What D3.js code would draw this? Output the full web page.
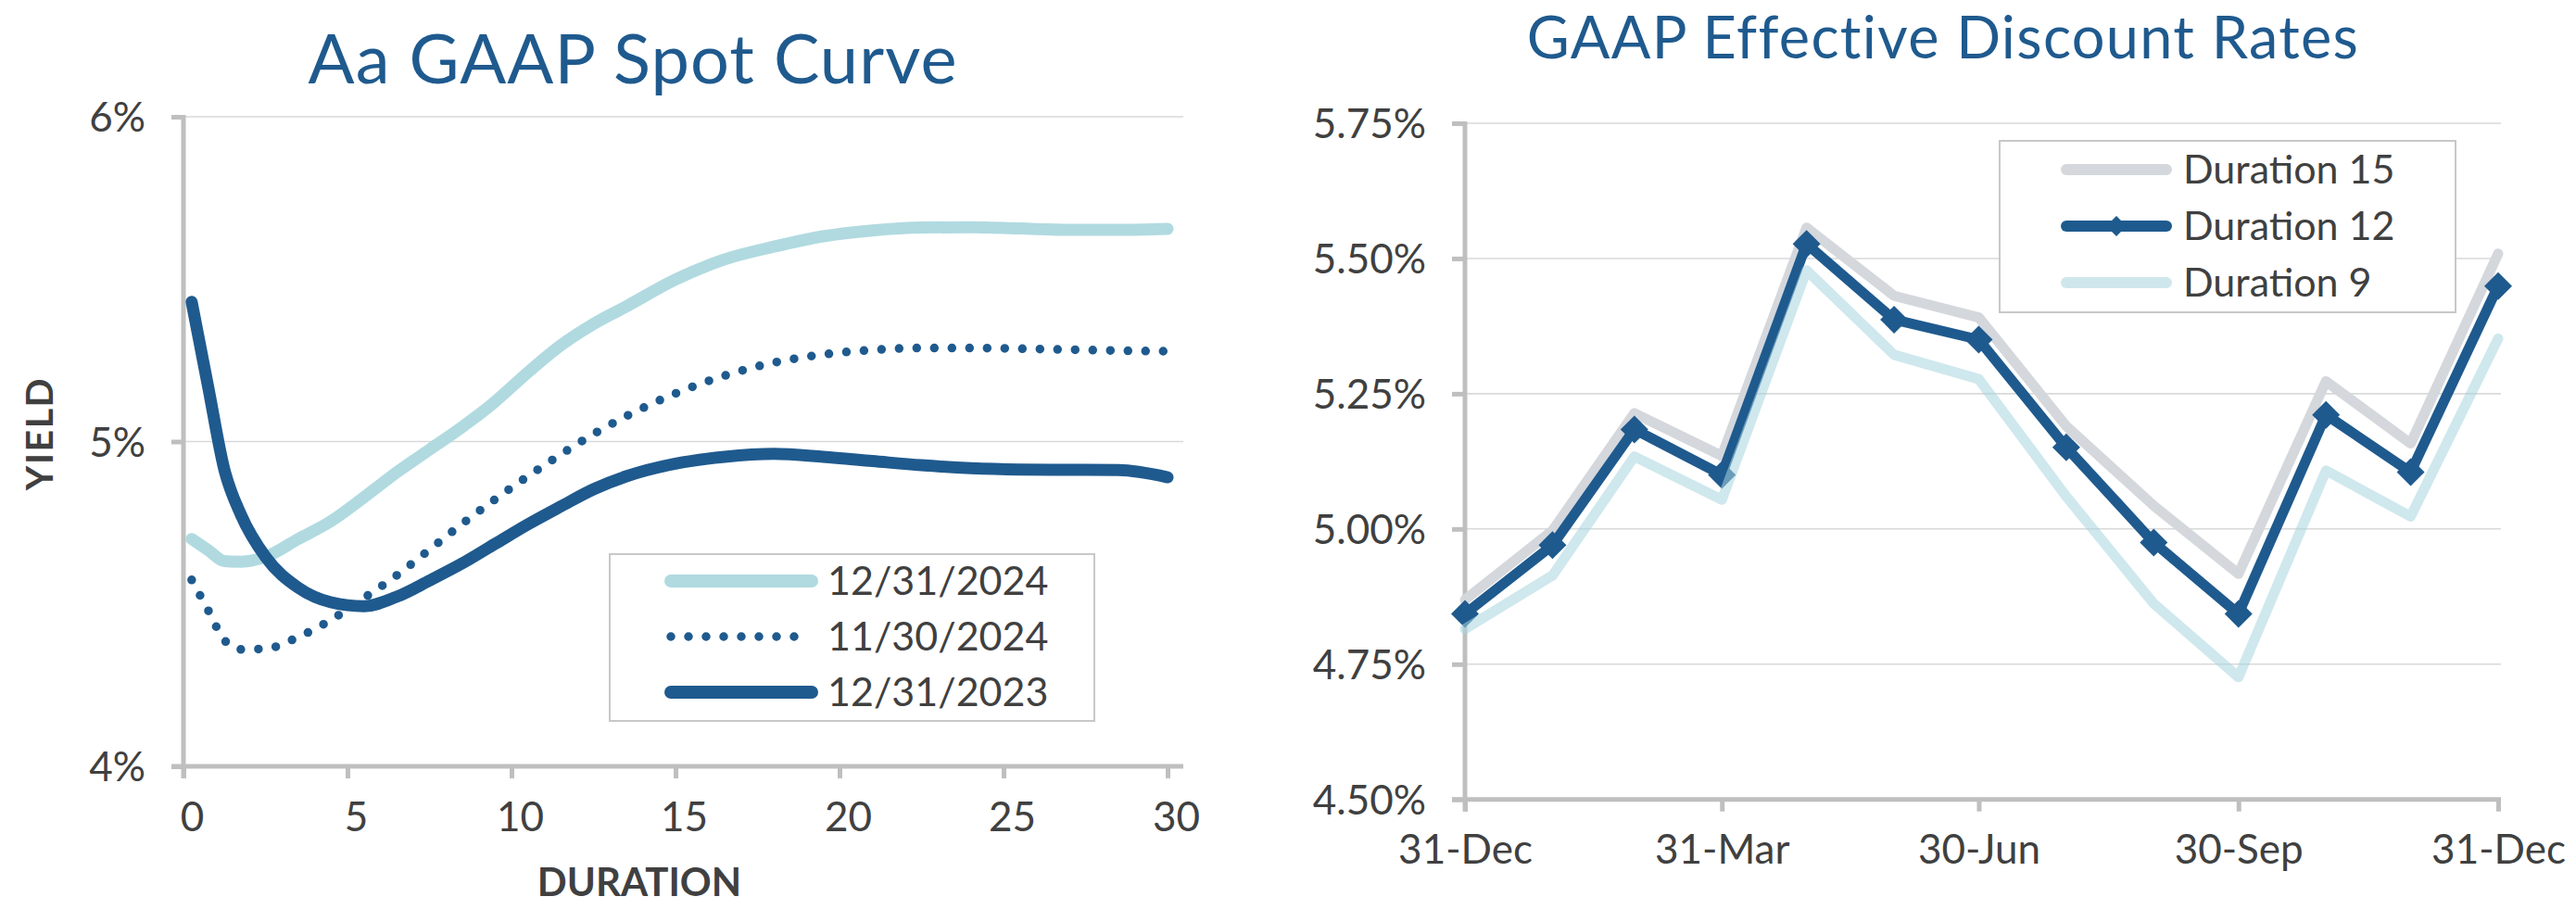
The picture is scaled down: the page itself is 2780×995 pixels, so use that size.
<!DOCTYPE html>
<html><head><meta charset="utf-8">
<script src="https://cdn.jsdelivr.net/npm/d3@7"></script>
<style>html,body{margin:0;padding:0;background:#fff;} svg{display:block;}</style>
</head><body>
<svg id="c" width="2780" height="995"></svg>
<script>
// ---------- Data: Aa GAAP Spot Curve ----------
const spotTitle = "Aa GAAP Spot Curve";
const durations = [0.25, 0.75, 1.25, 1.75, 2.5, 3.5, 4.5, 5.5, 6.5, 7.5, 8.5, 9.5, 10.5, 11.5, 12.5, 13.5, 15, 16.5, 18, 19.5, 21, 22.5, 24, 25.5, 27, 28.5, 30];
const spotDec2024 = [4.70, 4.666, 4.632, 4.63, 4.645, 4.70, 4.755, 4.828, 4.905, 4.975, 5.045, 5.123, 5.213, 5.296, 5.362, 5.416, 5.499, 5.561, 5.60, 5.632, 5.65, 5.659, 5.66, 5.656, 5.652, 5.652, 5.655];
const spotNov2024 = [4.574, 4.481, 4.388, 4.36, 4.362, 4.398, 4.451, 4.518, 4.588, 4.667, 4.747, 4.822, 4.893, 4.960, 5.023, 5.078, 5.148, 5.203, 5.243, 5.268, 5.282, 5.288, 5.288, 5.286, 5.283, 5.28, 5.278];
const spotDec2023 = [5.43, 5.17, 4.912, 4.775, 4.645, 4.55, 4.505, 4.493, 4.522, 4.572, 4.625, 4.685, 4.745, 4.80, 4.853, 4.893, 4.932, 4.953, 4.962, 4.953, 4.94, 4.927, 4.918, 4.914, 4.913, 4.912, 4.89];
const spotNames = ["12/31/2024", "11/30/2024", "12/31/2023"];
const spotYTicks = [4, 5, 6];
const spotXTicks = [0, 5, 10, 15, 20, 25, 30];

// ---------- Data: GAAP Effective Discount Rates ----------
const rateTitle = "GAAP Effective Discount Rates";
const rateDates = ["2023-12-31","2024-01-31","2024-02-29","2024-03-31","2024-04-30","2024-05-31","2024-06-30","2024-07-31","2024-08-31","2024-09-30","2024-10-31","2024-11-30","2024-12-31"];
const duration15 = [4.869, 4.997, 5.214, 5.135, 5.557, 5.431, 5.391, 5.19, 5.043, 4.917, 5.273, 5.158, 5.509];
const duration12 = [4.843, 4.970, 5.184, 5.100, 5.527, 5.387, 5.350, 5.151, 4.975, 4.843, 5.211, 5.105, 5.449];
const duration9  = [4.815, 4.914, 5.134, 5.054, 5.478, 5.322, 5.277, 5.060, 4.862, 4.726, 5.108, 5.023, 5.352];
const rateNames = ["Duration 15", "Duration 12", "Duration 9"];
const rateYTicks = [4.5, 4.75, 5.0, 5.25, 5.5, 5.75];
const rateXTicks = ["2023-12-31","2024-03-31","2024-06-30","2024-09-30","2024-12-31"];

// ---------- Styles ----------
const DARK = "#1F5A8E", LIGHT = "#B0DAE0", GREY = "#D4D7DC", TXT = "#404040";
const AXIS = "#BFBFBF", GRID = "#D9D9D9", FONT = "Lato, 'Open Sans', sans-serif";

const svg = d3.select("#c");
svg.append("rect").attr("width", 2780).attr("height", 995).attr("fill", "#fff");

function fitSpacing(sel, target) {
  const w = sel.node().getComputedTextLength();
  const n = sel.text().length;
  if (w > 0 && n > 1) sel.attr("letter-spacing", (target - w) / (n - 1));
}

// ================= LEFT CHART =================
{
  const L = 198, R = 1260, plotR = 1277, T = 126, B = 827;
  const x = d3.scaleLinear().domain([0, 30]).range([L, R]);
  const y = d3.scaleLinear().domain([4, 6]).range([B, T]);
  const g = svg.append("g");

  // title
  const t = g.append("text").attr("x", 683).attr("y", 90).attr("text-anchor", "middle")
    .attr("font-family", FONT).attr("font-size", 74).attr("fill", DARK).text(spotTitle);
  fitSpacing(t, 700);

  // gridlines
  g.selectAll(".grid").data(spotYTicks.filter(v => v > 4)).join("line")
    .attr("x1", L).attr("x2", plotR).attr("y1", d => y(d)).attr("y2", d => y(d))
    .attr("stroke", GRID).attr("stroke-width", 1.6);

  // y axis
  const ya = g.append("g").attr("transform", `translate(${L},0)`)
    .call(d3.axisLeft(y).tickValues(spotYTicks).tickSize(13).tickFormat(d => d + "%"));
  ya.select(".domain").remove();
  ya.selectAll(".tick line").attr("stroke", AXIS).attr("stroke-width", 5);
  ya.selectAll(".tick text").attr("x", -41).attr("dy", "0.36em")
    .attr("font-family", FONT).attr("font-size", 44).attr("fill", TXT);

  // x axis
  const xa = g.append("g").attr("transform", `translate(0,${B})`)
    .call(d3.axisBottom(x).tickValues(spotXTicks).tickSize(13).tickSizeOuter(0));
  xa.select(".domain").remove();
  xa.selectAll(".tick line").attr("stroke", AXIS).attr("stroke-width", 5);
  xa.selectAll(".tick text").attr("y", 70).attr("dy", 0).attr("dx", 9)
    .attr("font-family", FONT).attr("font-size", 44).attr("fill", TXT);

  g.append("line").attr("x1", L).attr("x2", L).attr("y1", T - 2).attr("y2", B + 13)
    .attr("stroke", AXIS).attr("stroke-width", 5);
  g.append("line").attr("x1", L - 13).attr("x2", plotR).attr("y1", B).attr("y2", B)
    .attr("stroke", AXIS).attr("stroke-width", 5);

  // axis titles
  g.append("text").attr("transform", "translate(57,468) rotate(-90)").attr("text-anchor", "middle")
    .attr("font-family", FONT).attr("font-weight", 700).attr("font-size", 41)
    .attr("letter-spacing", 1.5).attr("fill", TXT).text("YIELD");
  g.append("text").attr("x", 690).attr("y", 967).attr("text-anchor", "middle")
    .attr("font-family", FONT).attr("font-weight", 700).attr("font-size", 42)
    .attr("fill", TXT).text("DURATION");

  // lines
  const line = d3.line().x(d => x(d[0])).y(d => y(d[1])).curve(d3.curveMonotoneX);
  const series = [
    { name: spotNames[0], vals: spotDec2024, color: LIGHT, w: 13, dash: null },
    { name: spotNames[1], vals: spotNov2024, color: DARK, w: 9.5, dash: "0 19" },
    { name: spotNames[2], vals: spotDec2023, color: DARK, w: 13, dash: null }
  ];
  series.forEach(s => {
    g.append("path").datum(durations.map((d, i) => [d, s.vals[i]]))
      .attr("d", line).attr("fill", "none").attr("stroke", s.color)
      .attr("stroke-width", s.w).attr("stroke-linecap", "round").attr("stroke-linejoin", "round")
      .attr("stroke-dasharray", s.dash);
  });

  // legend
  const lg = g.append("g");
  lg.append("rect").attr("x", 658).attr("y", 598).attr("width", 523).attr("height", 180)
    .attr("fill", "#fff").attr("stroke", "#C8C8C8").attr("stroke-width", 2);
  series.forEach((s, i) => {
    const yy = 627 + i * 60;
    lg.append("line").attr("x1", 724).attr("x2", 876).attr("y1", yy).attr("y2", yy)
      .attr("stroke", s.color).attr("stroke-width", s.dash ? 9.5 : 14)
      .attr("stroke-linecap", "round").attr("stroke-dasharray", s.dash);
    lg.append("text").attr("x", 893).attr("y", yy).attr("dy", "0.36em")
      .attr("font-family", FONT).attr("font-size", 43).attr("fill", TXT).text(s.name);
  });
}

// ================= RIGHT CHART =================
{
  const L = 1581, R = 2696, plotR = 2699, T = 133, B = 862.7;
  const parse = d3.utcParse("%Y-%m-%d");
  const x = d3.scaleUtc().domain([parse(rateDates[0]), parse(rateDates[rateDates.length - 1])]).range([L, R]);
  const y = d3.scaleLinear().domain([4.5, 5.75]).range([B, T]);
  const g = svg.append("g");

  const t = g.append("text").attr("x", 2097).attr("y", 63).attr("text-anchor", "middle")
    .attr("font-family", FONT).attr("font-size", 63).attr("fill", DARK).text(rateTitle);
  fitSpacing(t, 896);

  g.selectAll(".grid").data(rateYTicks.filter(v => v > 4.5)).join("line")
    .attr("x1", L).attr("x2", plotR).attr("y1", d => y(d)).attr("y2", d => y(d))
    .attr("stroke", GRID).attr("stroke-width", 1.6);

  const ya = g.append("g").attr("transform", `translate(${L},0)`)
    .call(d3.axisLeft(y).tickValues(rateYTicks).tickSize(14).tickFormat(d => d3.format(".2f")(d) + "%"));
  ya.select(".domain").remove();
  ya.selectAll(".tick line").attr("stroke", AXIS).attr("stroke-width", 5);
  ya.selectAll(".tick text").attr("x", -42).attr("dy", "0.36em")
    .attr("font-family", FONT).attr("font-size", 44).attr("fill", TXT);

  const xa = g.append("g").attr("transform", `translate(0,${B})`)
    .call(d3.axisBottom(x).tickValues(rateXTicks.map(parse)).tickSize(13).tickSizeOuter(0)
      .tickFormat(d3.utcFormat("%d-%b")));
  xa.select(".domain").remove();
  xa.selectAll(".tick line").attr("stroke", AXIS).attr("stroke-width", 5);
  xa.selectAll(".tick text").attr("y", 69).attr("dy", 0)
    .attr("font-family", FONT).attr("font-size", 44).attr("fill", TXT);

  g.append("line").attr("x1", L).attr("x2", L).attr("y1", T - 2).attr("y2", B + 13)
    .attr("stroke", AXIS).attr("stroke-width", 5);
  g.append("line").attr("x1", L - 14).attr("x2", plotR).attr("y1", B).attr("y2", B)
    .attr("stroke", AXIS).attr("stroke-width", 5);

  const line = d3.line().x(d => x(d[0])).y(d => y(d[1]));
  const diamond = h => `M0,${-h}L${h},0L0,${h}L${-h},0Z`;
  const series = [
    { name: rateNames[0], vals: duration15, color: GREY, op: 1, marker: false },
    { name: rateNames[1], vals: duration12, color: DARK, op: 1, marker: true },
    { name: rateNames[2], vals: duration9, color: "#A8D5DE", op: 0.55, marker: false }
  ];
  series.forEach(s => {
    const pts = rateDates.map((d, i) => [parse(d), s.vals[i]]);
    const sg = g.append("g").attr("opacity", s.op);
    sg.append("path").datum(pts).attr("d", line).attr("fill", "none").attr("stroke", s.color)
      .attr("stroke-width", 11).attr("stroke-linecap", "round").attr("stroke-linejoin", "round");
    if (s.marker) {
      sg.selectAll(".mk").data(pts).join("path")
        .attr("transform", d => `translate(${x(d[0])},${y(d[1])})`)
        .attr("d", diamond(15)).attr("fill", s.color);
    }
  });

  // legend
  const lg = g.append("g");
  lg.append("rect").attr("x", 2158).attr("y", 152).attr("width", 492).attr("height", 185)
    .attr("fill", "#fff").attr("stroke", "#C8C8C8").attr("stroke-width", 2);
  series.forEach((s, i) => {
    const yy = 183 + i * 61;
    const sg = lg.append("g").attr("opacity", s.op);
    sg.append("line").attr("x1", 2230).attr("x2", 2338).attr("y1", yy).attr("y2", yy)
      .attr("stroke", s.color).attr("stroke-width", 12).attr("stroke-linecap", "round");
    if (s.marker) sg.append("path").attr("transform", `translate(2284,${yy})`)
      .attr("d", diamond(11)).attr("fill", s.color);
    lg.append("text").attr("x", 2356).attr("y", yy).attr("dy", "0.36em")
      .attr("font-family", FONT).attr("font-size", 43).attr("fill", TXT).text(s.name);
  });
}
</script>
</body></html>
